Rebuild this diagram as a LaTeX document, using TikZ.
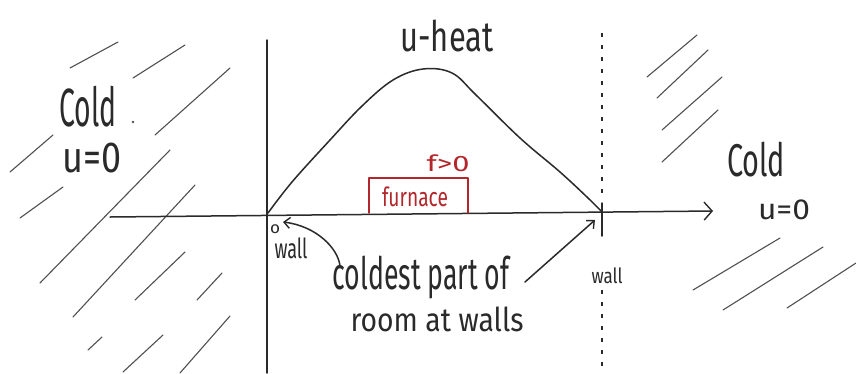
\documentclass[tikz,border=0pt]{standalone}
\usepackage{fontspec}
\setmainfont{Fira Sans}
\usetikzlibrary{arrows.meta}
\definecolor{inkc}{HTML}{2A2A2A}
\definecolor{redc}{HTML}{B3262B}
\definecolor{hatchc}{HTML}{505050}
\newcommand{\hw}[3]{\resizebox*{#1pt}{#2pt}{#3}}
\begin{document}
\begin{tikzpicture}[x=1pt,y=-1pt,
  ink/.style={draw=inkc, line width=1.5pt, line cap=round, line join=round},
  redink/.style={draw=redc, line width=1.4pt, line cap=round, line join=round},
  hatch/.style={draw=hatchc, line width=1.1pt, line cap=round},
  wallline/.style={draw=inkc, line width=1.4pt, dash pattern=on 4pt off 8pt},
  lbl/.style={inner sep=0pt, outer sep=0pt, text=inkc},
  redlbl/.style={inner sep=0pt, outer sep=0pt, text=redc},
  barb/.style={-{Straight Barb[length=6pt,width=11pt,line width=1.4pt]}}]
\fill[white] (0,0) rectangle (856,373);
\useasboundingbox (0,0) rectangle (856,373);

% hatching, left
\foreach \a/\b/\c/\d in {70/68/118/42, 133/78/185/45, 155/135/230/68, 10/172/53/135,
  20/218/63/187, 40/283/170/150, 73/317/195/185, 135/300/185/252, 197/300/222/273,
  88/350/102/337, 123/372/163/335, 180/373/230/316}
  \draw[hatch] (\a,\b) -- (\c,\d);
\fill[hatchc] (133,122) circle (1.3pt);
% hatching, right
\foreach \a/\b/\c/\d in {647/77/697/35, 657/98/708/50, 662/130/722/77, 662/162/718/110,
  693/290/780/238, 723/310/823/247, 787/308/856/263}
  \draw[hatch] (\a,\b) -- (\c,\d);

% axes
\coordinate (xl) at (110,217);
\coordinate (xr) at (713,211);
\coordinate (yt) at (267,40);
\coordinate (yb) at (267,373);
\coordinate (O) at (268,213);
\coordinate (W) at (602,212);
\draw[ink, -{Straight Barb[length=8pt,width=18pt,line width=1.4pt]}] (xl) -- (xr);
\draw[ink] (yt) -- (yb);

% right wall
\coordinate (wt) at (602,33);
\coordinate (wm1) at (602,198);
\coordinate (wm2) at (602,203);
\coordinate (wm3) at (602,236);
\coordinate (wb1) at (602,290);
\coordinate (wb2) at (602,373);
\draw[wallline] (wt) -- (wm1);
\draw[ink] (wm2) -- (wm3);
\draw[wallline] (wb1) -- (wb2);

% u curve
\draw[ink] plot[smooth, tension=0.6] coordinates {(O) (292,182) (330,140) (362,106) (393,80) (423,69) (452,73) (476,95) (520,138) (560,172) (588,198) (W)};

% furnace
\coordinate (fbl) at (369,213);
\coordinate (ftl) at (369,178);
\coordinate (ftr) at (468,178);
\coordinate (fbr) at (468,213);
\draw[redink] (fbl) -- (ftl) -- (ftr) -- (fbr);
\node[redlbl] (furn) at (415,197) {\hw{66}{20}{furnace}};
\node[redlbl] (fpos) at (448,163) {\hw{43}{17}{f>0}};

% labels
\node[lbl] (heat) at (447,36) {\hw{93}{32}{u-heat}};
\node[lbl] (cold1) at (88,107) {\hw{57}{41}{Cold}};
\node[lbl] (u01) at (92,158) {\hw{59}{30}{u=0}};
\node[lbl] (cold2) at (756,160) {\hw{58}{35}{Cold}};
\node[lbl] (u02) at (784,210) {\hw{52}{20}{u=0}};
\node[lbl] (zero) at (275,229) {\hw{10}{9}{o}};
\node[lbl] (wall1) at (291,248) {\hw{33}{21}{wall}};
\node[lbl] (wall2) at (607,276) {\hw{31}{16}{wall}};
\node[lbl] (cold3) at (421,278) {\hw{177}{43}{coldest part of}};
\node[lbl] (room) at (437,319) {\hw{173}{25}{room at walls}};

% arrows to walls
\coordinate (a1s) at (340,266);
\coordinate (a1e) at (283,222);
\coordinate (a2s) at (525,282);
\coordinate (a2e) at (595,220);
\draw[ink, barb] (a1s) .. controls (338,248) and (316,226) .. (a1e);
\draw[ink, barb] (a2s) -- (a2e);
\end{tikzpicture}
\end{document}
